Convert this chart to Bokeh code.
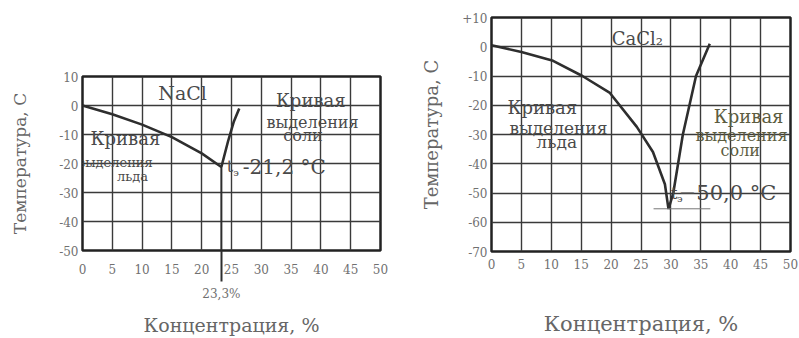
from bokeh.plotting import figure
from bokeh.layouts import row
from bokeh.models import FixedTicker, LinearAxis
from bokeh.core.properties import value
from bokeh.embed import file_html
from bokeh.resources import INLINE

# ---------------- data ----------------
conc_ticks = [0, 5, 10, 15, 20, 25, 30, 35, 40, 45, 50]
conc_tick_labels = ["0", "5", "10", "15", "20", "25", "30", "35", "40", "45", "50"]

nacl_temp_ticks = [10, 0, -10, -20, -30, -40, -50]
nacl_temp_tick_labels = ["10", "0", "-10", "-20", "-30", "-40", "-50"]
cacl_temp_ticks = [10, 0, -10, -20, -30, -40, -50, -60, -70]
cacl_temp_tick_labels = ["+10", "0", "-10", "-20", "-30", "-40", "-50", "-60", "-70"]

# NaCl: ice curve and salt curve, eutectic 23.3 %, -21.2 C
nacl_ice_conc = [0, 5, 10, 15, 20, 23.3]
nacl_ice_temp = [0, -3.0, -6.6, -10.9, -16.5, -21.2]
nacl_salt_conc = [23.3, 24.4, 25.4, 26.3]
nacl_salt_temp = [-21.2, -12.5, -5.5, -1.0]
nacl_eutectic_conc = 23.3
nacl_eutectic_temp = -21.2
nacl_eutectic_label = "23,3%"

# CaCl2: ice curve and salt curve
cacl_ice_conc = [0, 5, 10.3, 15.2, 19.8, 24.3, 27.0, 29.0, 29.6]
cacl_ice_temp = [0.5, -1.8, -4.8, -10.0, -15.8, -27.4, -36.0, -47.0, -55.5]
cacl_salt_conc = [29.6, 30.4, 32.0, 34.2, 36.5]
cacl_salt_temp = [-55.5, -50.0, -30.0, -10.0, 1.0]
cacl_eutectic_mark = -55.4

FONT = "DejaVu Serif"
INK = "#2e2e2e"
TXT = "#4a4a4a"


def style_axis(ax, label_size):
    ax.axis_line_color = None
    ax.major_tick_line_color = None
    ax.minor_tick_line_color = None
    ax.major_tick_out = 0
    ax.major_tick_in = 0
    ax.minor_tick_out = 0
    ax.minor_tick_in = 0
    ax.major_label_text_font = FONT
    ax.major_label_text_font_size = "12px"
    ax.major_label_text_color = "#707070"
    ax.axis_label_text_font = FONT
    ax.axis_label_text_font_size = label_size
    ax.axis_label_text_font_style = "normal"
    ax.axis_label_text_color = "#666666"


def make_fig(width, height, y_rng, borders, y_ticks, y_labels, ylab_size):
    left, right, top, bottom = borders
    p = figure(width=width, height=height, x_range=(0, 50), y_range=y_rng,
               output_backend="svg", toolbar_location=None,
               min_border_left=left, min_border_right=right,
               min_border_top=top, min_border_bottom=bottom)
    if "frame_align" in p.properties():
        p.frame_align = False
    p.background_fill_color = "white"
    p.border_fill_color = "white"
    p.outline_line_color = "#222222"
    p.outline_line_width = 2.5
    p.outline_line_alpha = 1.0

    p.xaxis.ticker = FixedTicker(ticks=conc_ticks)
    p.xaxis.major_label_overrides = dict(zip(conc_ticks, conc_tick_labels))
    p.yaxis.ticker = FixedTicker(ticks=y_ticks)
    p.yaxis.major_label_overrides = dict(zip(y_ticks, y_labels))
    p.xgrid.ticker = FixedTicker(ticks=conc_ticks)
    p.ygrid.ticker = FixedTicker(ticks=y_ticks)
    for g in (p.xgrid, p.ygrid):
        g.grid_line_color = "#3a3a3a"
        g.grid_line_width = 1.4
        g.grid_line_alpha = 1.0
    style_axis(p.xaxis[0], "19px")
    style_axis(p.yaxis[0], ylab_size)
    p.yaxis.major_label_standoff = 4
    p.yaxis.axis_label = "Температура, С"
    return p


def add_text(p, xs, ys, texts, size, color=TXT, align="center"):
    p.text(x=xs, y=ys, text=texts, text_font=value(FONT),
           text_font_size=size, text_color=color,
           text_align=align, text_baseline="middle")


# ---------------- NaCl ----------------
p1 = make_fig(400, 338, (-50, 10), (82, 20, 76, 87),
              nacl_temp_ticks, nacl_temp_tick_labels, "17px")
p1.yaxis.axis_label_standoff = 26
xa = p1.xaxis[0]
# eutectic line continued below the frame as a long minor tick
xa.ticker = FixedTicker(ticks=conc_ticks, minor_ticks=[nacl_eutectic_conc])
xa.minor_tick_line_color = INK
xa.minor_tick_line_width = 2
xa.minor_tick_out = 31
xa.major_label_standoff = -18   # pull the tick labels back up next to the frame
# second axis carrying the eutectic concentration label and the axis title
xb = LinearAxis(ticker=FixedTicker(ticks=[nacl_eutectic_conc]),
                major_label_overrides={nacl_eutectic_conc: nacl_eutectic_label})
style_axis(xb, "19px")
xb.major_label_standoff = 10
xb.axis_label = "Концентрация, %"
xb.axis_label_standoff = 10
p1.add_layout(xb, "below")

p1.line(nacl_ice_conc, nacl_ice_temp, line_color=INK, line_width=2.6)
p1.line(nacl_salt_conc, nacl_salt_temp, line_color=INK, line_width=2.6)
p1.segment(x0=[nacl_eutectic_conc], y0=[nacl_eutectic_temp],
           x1=[nacl_eutectic_conc], y1=[-50], line_color=INK, line_width=2)

add_text(p1, [16.8], [4.2], ["NaCl"], "19px")
add_text(p1, [7.2], [-11.3], ["Кривая"], "18px")
add_text(p1, [5.5, 8.4], [-19.8, -24.6], ["выделения", "льда"], "13px")
add_text(p1, [38.3], [1.8], ["Кривая"], "18px")
add_text(p1, [38.6, 37.0], [-5.8, -10.2], ["выделения", "соли"], "16px")
add_text(p1, [24.2], [nacl_eutectic_temp], ["t"], "16px", align="left")
add_text(p1, [25.3], [nacl_eutectic_temp - 1.8], ["э"], "10px", align="left")
add_text(p1, [26.9], [nacl_eutectic_temp], ["-21,2 °C"], "20px", align="left")

# ---------------- CaCl2 ----------------
p2 = make_fig(399, 338, (-70, 10), (91, 9, 17, 86),
              cacl_temp_ticks, cacl_temp_tick_labels, "18px")
p2.yaxis.axis_label_standoff = 17
p2.xaxis.axis_label = "Концентрация, %"
p2.xaxis.axis_label_text_font_size = "21px"
p2.xaxis.major_label_standoff = 7
p2.xaxis.axis_label_standoff = 40

p2.line(cacl_ice_conc, cacl_ice_temp, line_color=INK, line_width=2.6)
p2.line(cacl_salt_conc, cacl_salt_temp, line_color=INK, line_width=2.6)
p2.segment(x0=[27.1], y0=[cacl_eutectic_mark], x1=[36.6], y1=[cacl_eutectic_mark],
           line_color="#777777", line_width=1)

add_text(p2, [24.4], [2.9], ["CaCl₂"], "18px")
add_text(p2, [8.5], [-20.6], ["Кривая"], "18px")
add_text(p2, [11.2, 10.9], [-27.8, -32.6], ["выделения", "льда"], "17px")
add_text(p2, [43.0], [-24.0], ["Кривая"], "18px", color="#5c5c40")
add_text(p2, [41.8, 41.6], [-30.2, -35.3], ["выделения", "соли"], "16px", color="#5c5c40")
add_text(p2, [30.0], [-50.0], ["t"], "16px", align="left")
add_text(p2, [31.0], [-51.8], ["э"], "10px", align="left")
add_text(p2, [31.3], [-50.0], ["−50,0 °C"], "21px", align="left")

layout = row(p1, p2)
open("out.html", "w").write(file_html(layout, INLINE))
